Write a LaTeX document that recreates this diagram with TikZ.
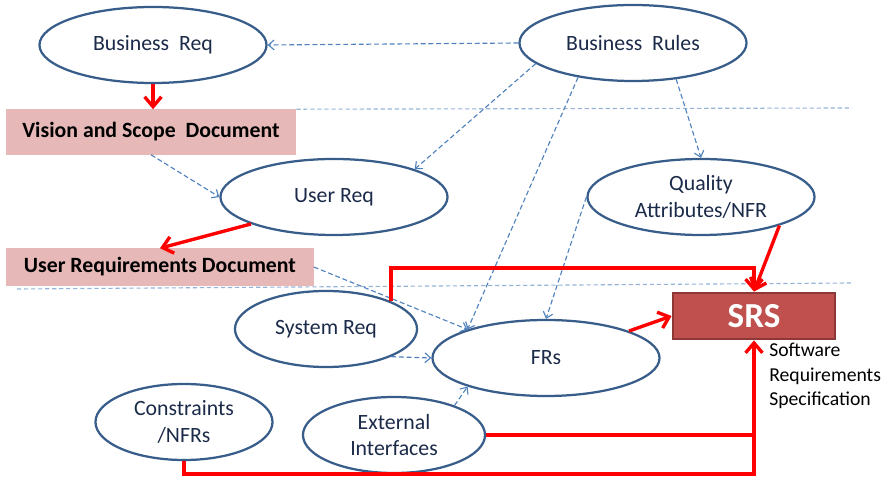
\documentclass[tikz,border=0pt]{standalone}
\usepackage{fontspec}
\setmainfont{Carlito}
\usetikzlibrary{arrows.meta,shapes.geometric,positioning}
\definecolor{reqline}{HTML}{385D8A}
\definecolor{reqtext}{HTML}{1A2A48}
\definecolor{docfill}{HTML}{E6B9B8}
\definecolor{srsfill}{HTML}{C0504D}
\definecolor{srsline}{HTML}{8C3836}
\definecolor{depline}{HTML}{4F81BD}
\definecolor{sepline}{HTML}{95B3D7}

\begin{document}
\begin{tikzpicture}[x=0.025cm, y=-0.025cm,
    req/.style={draw=reqline, ellipse, line width=1.6pt, minimum width=5.675cm, minimum height=1.9cm, inner sep=0pt, align=center, text=reqtext, font=\fontsize{15.5}{19}\selectfont},
    doc/.style={fill=docfill, inner sep=0pt, font=\fontsize{15.5}{19}\selectfont\bfseries},
    srs/.style={fill=srsfill, draw=srsline, line width=2pt, minimum width=4.05cm, minimum height=1.15cm, text=white, font=\fontsize{25}{30}\selectfont\bfseries},
    note/.style={align=left, inner sep=0pt, font=\fontsize{14}{17.5}\selectfont},
    redarr/.style={-{Straight Barb[length=7pt,width=12pt]}, line width=2.4pt, red},
    redline/.style={line width=2.4pt, red},
    dep/.style={-{Straight Barb[length=4pt,width=7pt]}, depline, line width=0.8pt, dash pattern=on 3.5pt off 2pt},
    sep/.style={sepline, line width=0.8pt, dash pattern=on 3pt off 2pt}
]
\useasboundingbox (0,0) rectangle (886,477);

% requirement sources
\node[req] (BReq) at (153,45) {Business\ \ Req};
\node[req] (BRules) at (633,43) {Business\ \ Rules};
\node[req] (UReq) at (334,197) {User Req};
\node[req] (QA) at (701,197) {Quality\\Attributes/NFR};
\node[req, minimum width=4.55cm] (SysR) at (326,329) {System Req};
\node[req] (FRs) at (546,358) {FRs};
\node[req, minimum width=4.425cm] (Cons) at (184,422) {Constraints\\/NFRs};
\node[req, minimum width=4.55cm] (ExtI) at (394,435) {External\\Interfaces};

% documents
\node[doc, minimum width=7.25cm, minimum height=1.125cm] (VSD) at (151,132) {Vision and Scope\ \ Document};
\node[doc, minimum width=7.675cm, minimum height=0.925cm] (URD) at (160,267) {User Requirements Document};
\node[srs] (SRS) at (754,316) {SRS};
\node[note, anchor=north west] (SRSnote) at (769,343) {Software\\Requirements\\Specification};

\coordinate (sepA) at (852,108);
\coordinate (sepB1) at (17,289);
\coordinate (sepB2) at (852,283);
\coordinate (topbus) at (754,268);
\coordinate (botbus) at (754,474);

% level separators
\draw[sep] (VSD.north east) -- (sepA);
\draw[sep] (sepB1) -- (sepB2);

% dependencies
\draw[dep] (BRules.west) -- (BReq.east);
\draw[dep] (BRules.-168) -- (UReq.19);
\draw[dep] (BRules.-148) -- (FRs.160);
\draw[dep] (BRules.-40) -- (QA.north);
\draw[dep] (VSD.south) -- (UReq.west);
\draw[dep] (URD.east) -- (FRs.160);
\draw[dep] (QA.west) -- (FRs.north);
\draw[dep] (SysR.-23) -- (FRs.west);
\draw[dep] (ExtI.26) -- (FRs.-160);

% document flow
\draw[redarr] (BReq.south) -- (BReq.south |- VSD.north);
\draw[redarr] (UReq.-162) -- (URD.north);
\draw[redarr] (SysR.23) |- (topbus) -- (SRS.north);
\draw[redarr] (QA.-20) -- (SRS.north);
\draw[redarr] (FRs.18) -- (SRS.west);
\draw[redline] (ExtI.east) -- (ExtI.east -| botbus);
\draw[redarr] (Cons.south) |- (botbus) -- (SRS.south);
\end{tikzpicture}
\end{document}
